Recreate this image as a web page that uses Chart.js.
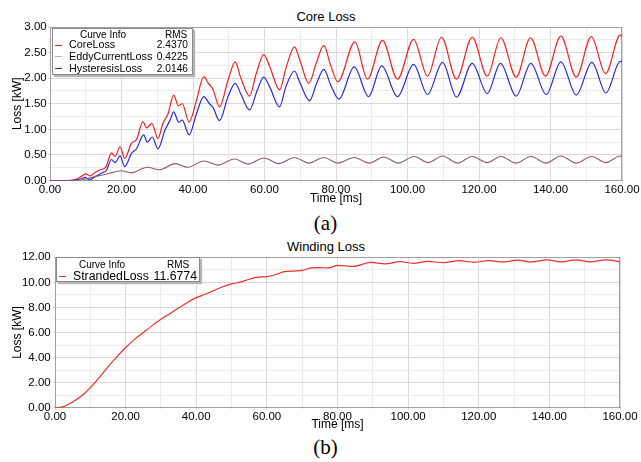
<!DOCTYPE html>
<html lang="en">
<head>
<meta charset="UTF-8">
<title>Core Loss / Winding Loss</title>
<script src="https://cdn.jsdelivr.net/npm/chart.js"></script>
<style>
    body {
        margin: 0;
        width: 641px;
        height: 462px;
        position: relative;
        background: #fff;
        overflow: hidden;
        font-family: "Liberation Sans", Arial, sans-serif;
        color: #000;
    }
    canvas { position: absolute; left: 0; }
    .plot-title {
        position: absolute;
        left: 0;
        width: 652px;
        text-align: center;
        font-size: 13px;
        line-height: 16px;
    }
    .caption {
        position: absolute;
        left: 0;
        width: 651px;
        text-align: center;
        font-family: "Liberation Serif", "Times New Roman", serif;
        font-size: 21px;
        line-height: 24px;
    }
    .curve-info {
        position: absolute;
        background: #fff;
        border: 1px solid #8a8a8a;
        box-shadow: 2px 2px 1px #b5b5b5;
        z-index: 2;
    }
    .curve-info span {
        position: absolute;
        white-space: nowrap;
    }
    .curve-info .hdr { font-size: 10px; line-height: 12px; }
    .curve-info .mark { height: 1px; width: 7px; }
    .curve-info .val { font-size: 10.2px; }
</style>
</head>
<body>

<div class="plot-title" style="top:9px">Core Loss</div>
<canvas id="coreChart" width="641" height="206" style="top:0"></canvas>
<div class="curve-info" style="left:52px; top:28px; width:139px; height:45px; font-size:10.8px;">
    <span class="hdr" style="left:27px; top:0px;">Curve Info</span>
    <span class="hdr" style="left:112px; top:0px;">RMS</span>
    <span class="mark" style="left:2px; top:16px; background:#ee2222"></span>
    <span style="left:16px; top:9px; line-height:13px;">CoreLoss</span>
    <span class="val" style="right:4px; top:9px; line-height:13px;">2.4370</span>
    <span class="mark" style="left:2px; top:27px; background:#d4a4b0"></span>
    <span style="left:16px; top:21px; line-height:13px;">EddyCurrentLoss</span>
    <span class="val" style="right:4px; top:21px; line-height:13px;">0.4225</span>
    <span class="mark" style="left:2px; top:39px; background:#2a2ad0"></span>
    <span style="left:16px; top:33px; line-height:13px;">HysteresisLoss</span>
    <span class="val" style="right:4px; top:33px; line-height:13px;">2.0146</span>
</div>
<div class="caption" style="top:211px">(a)</div>

<div class="plot-title" style="top:239px">Winding Loss</div>
<canvas id="windChart" width="641" height="205" style="top:230px"></canvas>
<div class="curve-info" style="left:56px; top:257px; width:142px; height:23px; font-size:12.3px;">
    <span class="hdr" style="left:22px; top:1px;">Curve Info</span>
    <span class="hdr" style="left:110px; top:1px;">RMS</span>
    <span class="mark" style="left:2px; top:18px; background:#e8302f"></span>
    <span style="left:16px; top:11px; line-height:14px;">StrandedLoss</span>
    <span style="right:2px; top:11px; line-height:14px;">11.6774</span>
</div>
<div class="caption" style="top:435px">(b)</div>

<script>
// Core loss curves [kW] vs time [ms]
const coreTime = [0, 5, 7.5, 9, 10, 11.2, 12.5, 14, 15.6, 17.2, 18.2, 19.6, 20.9, 22.8, 24.2, 26.0, 27.0, 28.5, 30.2,
    31.6, 33.0, 34.6, 35.9, 37.0, 38.9, 41.0, 43.0, 44.3, 45.6, 47.4, 49.8, 51.8, 53.3, 55.8, 57.7, 59.8, 61.5, 64.2,
    66.1, 68.4, 69.9, 72.4, 74.5, 76.6, 78.5, 80.5, 85.3, 88.8, 93.0, 97.2, 101.7, 105.6, 109.5, 113.7, 118.1, 122.3,
    126.1, 130.4, 134.4, 138.6, 142.9, 147.2, 151.4, 155.4, 159.5, 160];
const coreLoss = [0, 0, 0.03, 0.09, 0.13, 0.09, 0.15, 0.21, 0.26, 0.54, 0.47, 0.66, 0.43, 0.73, 0.80, 1.15, 1.03, 1.11, 0.82,
    1.12, 1.30, 1.67, 1.46, 1.50, 1.14, 1.57, 2.03, 1.90, 1.78, 1.44, 1.96, 2.32, 2.02, 1.65, 2.09, 2.46, 2.22, 1.77,
    2.22, 2.61, 2.35, 1.90, 2.30, 2.64, 2.25, 1.93, 2.71, 1.98, 2.74, 1.98, 2.76, 2.04, 2.80, 1.98, 2.80, 2.04,
    2.79, 2.02, 2.79, 2.04, 2.82, 2.02, 2.81, 2.09, 2.84, 2.82];

const hystTime = [0, 6, 8.5, 9.9, 10.9, 12.5, 14.3, 15.8, 17.2, 18.2, 19.6, 20.9, 22.8, 24.2, 26.2, 27.2, 28.6, 30.2,
    32.2, 33.6, 34.6, 36.0, 37.0, 38.9, 41.0, 43.0, 44.5, 45.6, 47.4, 49.8, 51.8, 53.5, 55.8, 58.0, 59.8, 61.5, 64.2,
    66.0, 68.4, 69.8, 72.6, 74.6, 76.6, 78.6, 80.8, 85.1, 89.1, 92.8, 97.2, 101.7, 105.6, 109.8, 113.7, 118.1, 122.3,
    126.0, 130.4, 134.5, 138.8, 142.9, 147.2, 151.6, 155.5, 159.5, 160];
const hystLoss = [0, 0, 0.03, 0.06, 0.01, 0.07, 0.14, 0.20, 0.41, 0.35, 0.48, 0.27, 0.53, 0.62, 0.89, 0.75, 0.85, 0.62,
    0.99, 1.18, 1.34, 1.14, 1.18, 0.89, 1.31, 1.64, 1.51, 1.43, 1.17, 1.64, 1.90, 1.67, 1.38, 1.77, 2.02, 1.82, 1.44,
    1.84, 2.14, 1.93, 1.56, 1.90, 2.17, 1.85, 1.59, 2.22, 1.64, 2.24, 1.64, 2.27, 1.68, 2.31, 1.63, 2.29, 1.70,
    2.29, 1.65, 2.29, 1.68, 2.32, 1.67, 2.31, 1.71, 2.33, 2.32];

const eddyTime = [0, 8, 10, 13.4, 16.6, 19.9, 22.7, 27.2, 30.6, 35.0, 38.6, 43.0, 47.0, 51.6, 55.4, 59.8, 64.0, 68.4,
    72.4, 76.6, 80.5, 85.1, 89.3, 93.4, 97.4, 101.9, 105.8, 109.8, 114.0, 118.1, 122.3, 126.1, 130.4, 134.5, 138.8,
    142.9, 147.2, 151.5, 155.5, 159.5, 160];
const eddyLoss = [0, 0, 0.03, 0.09, 0.14, 0.19, 0.15, 0.26, 0.21, 0.33, 0.26, 0.38, 0.30, 0.42, 0.32, 0.44, 0.33, 0.45,
    0.34, 0.45, 0.34, 0.45, 0.34, 0.46, 0.34, 0.47, 0.35, 0.48, 0.34, 0.47, 0.35, 0.47, 0.34, 0.47, 0.34,
    0.48, 0.34, 0.47, 0.35, 0.48, 0.48];

// Winding (stranded) loss [kW] vs time [ms]
const windTime = [0, 2, 5, 8, 10, 12.5, 15, 17.5, 20, 22.5, 25, 27.5, 30, 32.5, 35, 37.5, 40, 42.5, 45, 47.5, 50, 52.5,
    55, 57.5, 60, 62.5, 65, 67.5, 70, 72.5, 75, 77.5, 80, 84.5, 89.5, 93.5, 97.7, 101.5, 105.5, 110, 114.5, 118.8,
    122.8, 126.8, 131, 135, 139.3, 143.3, 147.6, 151.6, 155.9, 160];
const windLoss = [0, 0.05, 0.45, 1.05, 1.6, 2.4, 3.25, 4.05, 4.8, 5.45, 6.0, 6.55, 7.05, 7.5, 7.95, 8.4, 8.78, 9.05, 9.35,
    9.65, 9.88, 10.02, 10.25, 10.42, 10.46, 10.62, 10.85, 10.9, 10.95, 11.15, 11.18, 11.15, 11.36, 11.28, 11.6, 11.47,
    11.65, 11.52, 11.68, 11.57, 11.73, 11.6, 11.73, 11.63, 11.77, 11.63, 11.79, 11.63, 11.79, 11.63, 11.8, 11.66];

const FONT = '"Liberation Sans", Arial, sans-serif';

function toPoints(xs, ys) {
    return xs.map((x, i) => ({ x: x, y: ys[i] }));
}

// grey frame round the plot area
const frameBorder = {
    id: 'frameBorder',
    beforeDatasetsDraw(chart) {
        const { ctx, chartArea: a } = chart;
        const l = Math.round(a.left) + 0.5, t = Math.round(a.top) + 0.5;
        const r = Math.round(a.right) - 0.5, b = Math.round(a.bottom) - 0.5;
        ctx.save();
        ctx.strokeStyle = '#a0a0a0';
        ctx.lineWidth = 1;
        ctx.strokeRect(l, t, r - l, b - t);
        ctx.restore();
    }
};

function lossOptions(cfg) {
    return {
        responsive: false,
        animation: false,
        layout: { padding: { top: cfg.padTop, right: cfg.padRight, left: 0, bottom: 0 } },
        plugins: { legend: { display: false }, tooltip: { enabled: false } },
        elements: { point: { radius: 0 } },
        scales: {
            x: {
                type: 'linear',
                min: 0,
                max: 160,
                afterFit(s) { s.height = cfg.xHeight; s.paddingLeft = 0; s.paddingRight = 0; },
                border: { color: '#a0a0a0' },
                grid: {
                    tickLength: 2,
                    color: ctx => (ctx.tick && ctx.tick.value % 20 === 0) ? '#d9d9d9' : '#ececec'
                },
                ticks: {
                    stepSize: 10,
                    autoSkip: false,
                    maxRotation: 0,
                    padding: 0,
                    color: '#000',
                    font: { family: FONT, size: 11.5 },
                    callback: v => (v % 20 === 0 ? v.toFixed(2) : '')
                },
                title: {
                    display: true,
                    text: 'Time [ms]',
                    color: '#000',
                    font: { family: FONT, size: 12 },
                    padding: { top: 0, bottom: cfg.xTitlePad }
                }
            },
            y: {
                min: 0,
                max: cfg.yMax,
                afterFit(s) { s.width = cfg.yWidth; },
                border: { color: '#a0a0a0' },
                grid: {
                    tickLength: 2,
                    color: ctx => (ctx.tick && Math.abs(ctx.tick.value / cfg.yMajor - Math.round(ctx.tick.value / cfg.yMajor)) < 1e-9) ? '#d9d9d9' : '#ececec'
                },
                ticks: {
                    stepSize: cfg.yMajor / 2,
                    autoSkip: false,
                    padding: cfg.yTickPad,
                    color: '#000',
                    font: { family: FONT, size: 11.5 },
                    callback: v => (Math.abs(v / cfg.yMajor - Math.round(v / cfg.yMajor)) < 1e-9 ? v.toFixed(2) : '')
                },
                title: {
                    display: true,
                    text: 'Loss [kW]',
                    color: '#000',
                    font: { family: FONT, size: 12 },
                    padding: { top: cfg.yTitlePad, bottom: 0 }
                }
            }
        }
    };
}

new Chart(document.getElementById('coreChart').getContext('2d'), {
    type: 'line',
    data: {
        datasets: [
            {
                label: 'EddyCurrentLoss',
                data: toPoints(eddyTime, eddyLoss),
                borderColor: '#8c5a7a',
                borderWidth: 1.1,
                cubicInterpolationMode: 'monotone'
            },
            {
                label: 'HysteresisLoss',
                data: toPoints(hystTime, hystLoss),
                borderColor: '#2a2ad0',
                borderWidth: 1.2,
                cubicInterpolationMode: 'monotone'
            },
            {
                label: 'CoreLoss',
                data: toPoints(coreTime, coreLoss),
                borderColor: '#ee2222',
                borderWidth: 1.2,
                cubicInterpolationMode: 'monotone'
            }
        ]
    },
    options: lossOptions({ padTop: 27, padRight: 19, xHeight: 25.5, xTitlePad: 0, yMax: 3, yMajor: 0.5, yWidth: 50, yTickPad: 1.3, yTitlePad: 10.8 }),
    plugins: [frameBorder]
});

new Chart(document.getElementById('windChart').getContext('2d'), {
    type: 'line',
    data: {
        datasets: [
            {
                label: 'StrandedLoss',
                data: toPoints(windTime, windLoss),
                borderColor: '#e8302f',
                borderWidth: 1.2,
                cubicInterpolationMode: 'monotone'
            }
        ]
    },
    options: lossOptions({ padTop: 27.3, padRight: 21, xHeight: 27.3, xTitlePad: 2.8, yMax: 12, yMajor: 2, yWidth: 55, yTickPad: 2.3, yTitlePad: 10.1 }),
    plugins: [frameBorder]
});
</script>
</body>
</html>
